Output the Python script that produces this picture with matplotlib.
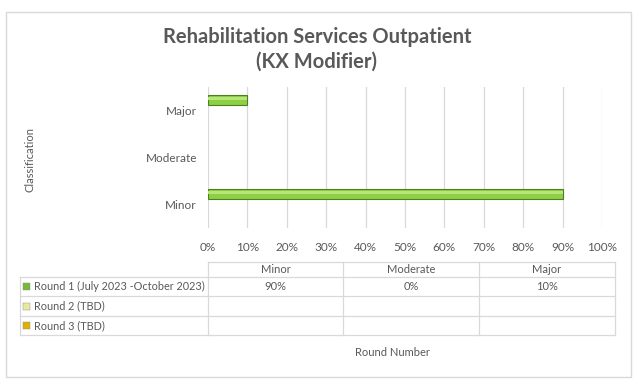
import matplotlib
matplotlib.use("Agg")
import matplotlib.pyplot as plt
from matplotlib.lines import Line2D
from matplotlib.patches import Rectangle

categories = ["Minor", "Moderate", "Major"]
series_names = ["Round 1 (July 2023 -October 2023)", "Round 2 (TBD)", "Round 3 (TBD)"]
round1 = [90, 0, 10]
round2 = [None, None, None]
round3 = [None, None, None]
xticks = [0, 10, 20, 30, 40, 50, 60, 70, 80, 90, 100]
series_colors = ["#78b83a", "#e8e8a0", "#e0b000"]

W, H = 642, 385
plt.rcParams['font.family'] = ['Lato', 'DejaVu Sans']
fig = plt.figure(figsize=(W / 100, H / 100), dpi=100)
fig.patch.set_facecolor("white")
txt = "#595959"
grid = "#d9d9d9"

def fx(x):
    return x / W

def fy(y):
    return 1 - y / H

# outer border
fig.add_artist(Rectangle((fx(6), fy(377)), fx(631) - fx(6), fy(12) - fy(377),
                         transform=fig.transFigure, fill=False, edgecolor="#d9d9d9", lw=1))

ax = fig.add_axes([fx(208), fy(228), fx(602) - fx(208), fy(87) - fy(228)])
ypos = [i + 0.5 for i in range(len(categories))]
bh = 0.21
off = 0.22
vals1 = [v for v in round1]
edges = ["#4f7f1f" if v > 0 else "none" for v in vals1]
ax.barh([y + off for y in ypos], vals1, height=bh, color="#8dcf45", edgecolor=edges, lw=0.8, zorder=3)
ax.barh([y + off + bh * 0.18 for y in ypos], vals1, height=bh * 0.35, color="#b6e67a", lw=0, zorder=4)
ax.set_xlim(0, 100)
ax.set_ylim(0, 3)
ax.set_xticks(xticks)
ax.set_xticklabels([f"{t}%" for t in xticks], color=txt, fontsize=8.5)
ax.set_yticks(ypos)
ax.set_yticklabels(categories, color=txt, fontsize=8.5)
ax.tick_params(length=0, pad=8)
ax.tick_params(axis="x", pad=10)
for s in ax.spines.values():
    s.set_visible(False)
ax.grid(axis="x", color=grid, lw=0.9, zorder=0)
ax.set_axisbelow(True)

fig.text(fx(317), fy(37), "Rehabilitation Services Outpatient", ha="center", va="center",
         fontsize=14.5, fontweight="bold", color=txt)
fig.text(fx(317), fy(62), "(KX Modifier)", ha="center", va="center",
         fontsize=14.5, fontweight="bold", color=txt)
fig.text(fx(30), fy(160), "Classification", rotation=90, ha="center", va="center", fontsize=8, color=txt)
fig.text(fx(392), fy(352), "Round Number", ha="center", va="center", fontsize=8, color=txt)

# data table
cols = [208, 343, 479, 615]
rows = [262, 277, 296, 316, 335]
def hline(x0, x1, y):
    fig.add_artist(Line2D([fx(x0), fx(x1)], [fy(y), fy(y)], transform=fig.transFigure, color=grid, lw=0.9))
def vline(x, y0, y1):
    fig.add_artist(Line2D([fx(x), fx(x)], [fy(y0), fy(y1)], transform=fig.transFigure, color=grid, lw=0.9))
hline(208, 615, rows[0])
for r in rows[1:]:
    hline(20, 615, r)
vline(20, rows[1], rows[-1])
for c in cols:
    vline(c, rows[0], rows[-1])
for j, cat in enumerate(categories):
    cx = (cols[j] + cols[j + 1]) / 2
    fig.text(fx(cx), fy((rows[0] + rows[1]) / 2), cat, ha="center", va="center", fontsize=8, color=txt)
all_series = [round1, round2, round3]
for i, (name, data, col) in enumerate(zip(series_names, all_series, series_colors)):
    cy = (rows[i + 1] + rows[i + 2]) / 2
    fig.add_artist(Rectangle((fx(23), fy(cy + 3.5)), fx(7) - fx(0), fy(0) - fy(7),
                             transform=fig.transFigure, facecolor=col, edgecolor="#888888", lw=0.3))
    fig.text(fx(34), fy(cy), name, ha="left", va="center", fontsize=7.8, color=txt)
    for j, v in enumerate(data):
        if v is not None:
            cx = (cols[j] + cols[j + 1]) / 2
            fig.text(fx(cx), fy(cy), f"{v}%", ha="center", va="center", fontsize=8, color=txt)

fig.savefig("out.png", dpi=100, facecolor="white")
